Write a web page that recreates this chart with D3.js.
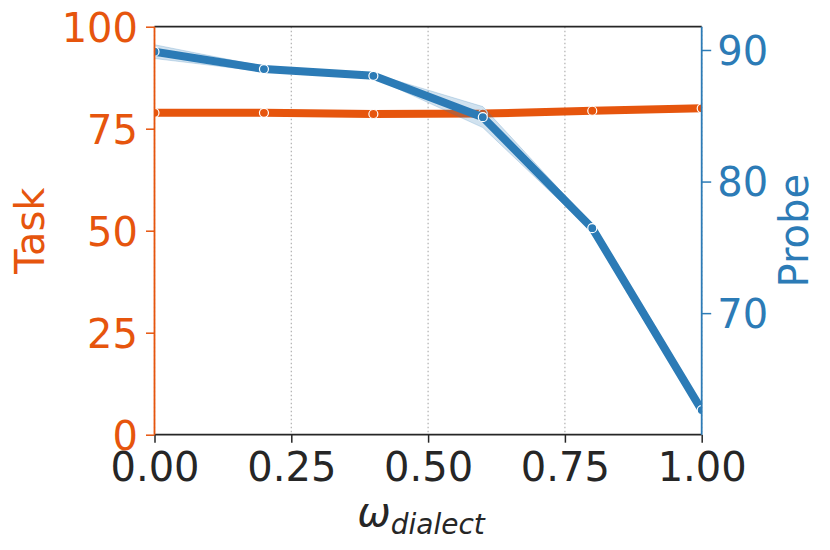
<!DOCTYPE html>
<html>
<head>
<meta charset="utf-8">
<script src="https://cdn.jsdelivr.net/npm/d3@7"></script>
<style>
  body { margin: 0; background: #fff; }
  text { font-family: "DejaVu Sans", sans-serif; }
</style>
</head>
<body>
<div id="chart"></div>
<script>
const width = 830;
const height = 550;

// values
const weights = [0, 0.2, 0.4, 0.6, 0.8, 1.0];
const taskScores = [78.9, 78.9, 78.6, 78.7, 79.4, 80.0];
const probeScores = [89.87, 88.55, 88.04, 84.89, 76.46, 62.63];
const probeLow = [89.35, 88.35, 87.9, 84.1, 76.2, 62.45];
const probeHigh = [90.4, 88.75, 88.2, 85.7, 76.7, 62.8];

const xTicks = [0, 0.25, 0.5, 0.75, 1.0];
const taskTicks = [0, 25, 50, 75, 100];
const probeTicks = [70, 80, 90];

const orange = "#e6550d";
const blue = "#2c7bb6";
const dark = "#262626";

const plotLeft = 154.5, plotRight = 701.7, plotTop = 26.7, plotBottom = 434.7;

let xScale = d3.scaleLinear().domain([0, 1]).range([plotLeft, plotRight]);
let taskScale = d3.scaleLinear().domain([0, 100]).range([plotBottom, plotTop]);
let probeScale = d3.scaleLinear().domain([60.76, 91.77]).range([plotBottom, plotTop]);

const svg = d3.select("#chart")
  .append("svg")
  .attr("width", width)
  .attr("height", height);

svg.append("defs").append("clipPath")
  .attr("id", "plotclip")
  .append("rect")
  .attr("x", plotLeft).attr("y", plotTop)
  .attr("width", plotRight - plotLeft).attr("height", plotBottom - plotTop);

// dotted vertical grid
svg.append("g")
  .selectAll("line")
  .data(xTicks).enter()
  .append("line")
  .attr("x1", d => xScale(d)).attr("x2", d => xScale(d))
  .attr("y1", plotTop).attr("y2", plotBottom)
  .attr("stroke", "#b0b0b0")
  .attr("stroke-width", 1.2)
  .attr("stroke-dasharray", "1.5,2.5");

const plot = svg.append("g").attr("clip-path", "url(#plotclip)");

// task line (left axis)
const taskLine = d3.line()
  .x((d, i) => xScale(weights[i]))
  .y(d => taskScale(d));

plot.append("path")
  .datum(taskScores)
  .attr("d", taskLine)
  .attr("fill", "none")
  .attr("stroke", orange)
  .attr("stroke-width", 8);

plot.selectAll("circle.task")
  .data(taskScores).enter()
  .append("circle")
  .attr("class", "task")
  .attr("cx", (d, i) => xScale(weights[i]))
  .attr("cy", d => taskScale(d))
  .attr("r", 4.5)
  .attr("fill", orange)
  .attr("stroke", "#fff")
  .attr("stroke-width", 1.2);

// probe band + line (right axis)
const probeArea = d3.area()
  .x((d, i) => xScale(weights[i]))
  .y0((d, i) => probeScale(probeLow[i]))
  .y1((d, i) => probeScale(probeHigh[i]));

plot.append("path")
  .datum(weights)
  .attr("d", probeArea)
  .attr("fill", blue)
  .attr("fill-opacity", 0.22)
  .attr("stroke", blue)
  .attr("stroke-opacity", 0.22)
  .attr("stroke-width", 1);

const probeLine = d3.line()
  .x((d, i) => xScale(weights[i]))
  .y(d => probeScale(d));

plot.append("path")
  .datum(probeScores)
  .attr("d", probeLine)
  .attr("fill", "none")
  .attr("stroke", blue)
  .attr("stroke-width", 8);

plot.selectAll("circle.probe")
  .data(probeScores).enter()
  .append("circle")
  .attr("class", "probe")
  .attr("cx", (d, i) => xScale(weights[i]))
  .attr("cy", d => probeScale(d))
  .attr("r", 4.5)
  .attr("fill", blue)
  .attr("stroke", "#fff")
  .attr("stroke-width", 1.2);

// axes
const xAxis = svg.append("g")
  .attr("transform", `translate(0,${plotBottom})`)
  .call(d3.axisBottom(xScale).tickValues(xTicks).tickFormat(d3.format(".2f")).tickSize(8).tickPadding(10));
xAxis.select(".domain").remove();
xAxis.selectAll(".tick line").attr("stroke", dark).attr("stroke-width", 1.5);
xAxis.selectAll(".tick text")
  .attr("fill", dark)
  .style("font-size", "40px")
  .style("font-family", "DejaVu Sans");

const yAxisL = svg.append("g")
  .attr("transform", `translate(${plotLeft},0)`)
  .call(d3.axisLeft(taskScale).tickValues(taskTicks).tickSize(8.5).tickPadding(8));
yAxisL.select(".domain").remove();
yAxisL.selectAll(".tick line").attr("stroke", orange).attr("stroke-width", 1.5);
yAxisL.selectAll(".tick text")
  .attr("fill", orange)
  .attr("dy", "0.36em")
  .style("font-size", "40px")
  .style("font-family", "DejaVu Sans");

const yAxisR = svg.append("g")
  .attr("transform", `translate(${plotRight},0)`)
  .call(d3.axisRight(probeScale).tickValues(probeTicks).tickSize(9.5).tickPadding(6));
yAxisR.select(".domain").remove();
yAxisR.selectAll(".tick line").attr("stroke", blue).attr("stroke-width", 1.5);
yAxisR.selectAll(".tick text")
  .attr("fill", blue)
  .attr("dy", "0.36em")
  .style("font-size", "40px")
  .style("font-family", "DejaVu Sans");

// spines
svg.append("line")
  .attr("x1", plotLeft).attr("x2", plotRight).attr("y1", plotTop).attr("y2", plotTop)
  .attr("stroke", dark).attr("stroke-width", 1.8);
svg.append("line")
  .attr("x1", plotLeft).attr("x2", plotRight).attr("y1", plotBottom).attr("y2", plotBottom)
  .attr("stroke", dark).attr("stroke-width", 1.8);
svg.append("line")
  .attr("x1", plotLeft).attr("x2", plotLeft).attr("y1", plotTop).attr("y2", plotBottom)
  .attr("stroke", orange).attr("stroke-width", 1.8);
svg.append("line")
  .attr("x1", plotRight).attr("x2", plotRight).attr("y1", plotTop).attr("y2", plotBottom)
  .attr("stroke", blue).attr("stroke-width", 1.8);

// axis titles
svg.append("text")
  .attr("transform", `translate(44,${(plotTop + plotBottom) / 2}) rotate(-90)`)
  .attr("text-anchor", "middle")
  .attr("fill", orange)
  .style("font-size", "40px")
  .text("Task");

svg.append("text")
  .attr("transform", `translate(808,${(plotTop + plotBottom) / 2}) rotate(-90)`)
  .attr("text-anchor", "middle")
  .attr("fill", blue)
  .style("font-size", "40px")
  .text("Probe");

const xTitle = svg.append("text")
  .attr("x", 421)
  .attr("y", 526)
  .attr("text-anchor", "middle")
  .attr("fill", dark);
xTitle.append("tspan")
  .style("font-size", "40px")
  .style("font-style", "italic")
  .text("ω");
xTitle.append("tspan")
  .attr("dy", 8)
  .style("font-size", "28px")
  .style("font-style", "italic")
  .text("dialect");
</script>
</body>
</html>
